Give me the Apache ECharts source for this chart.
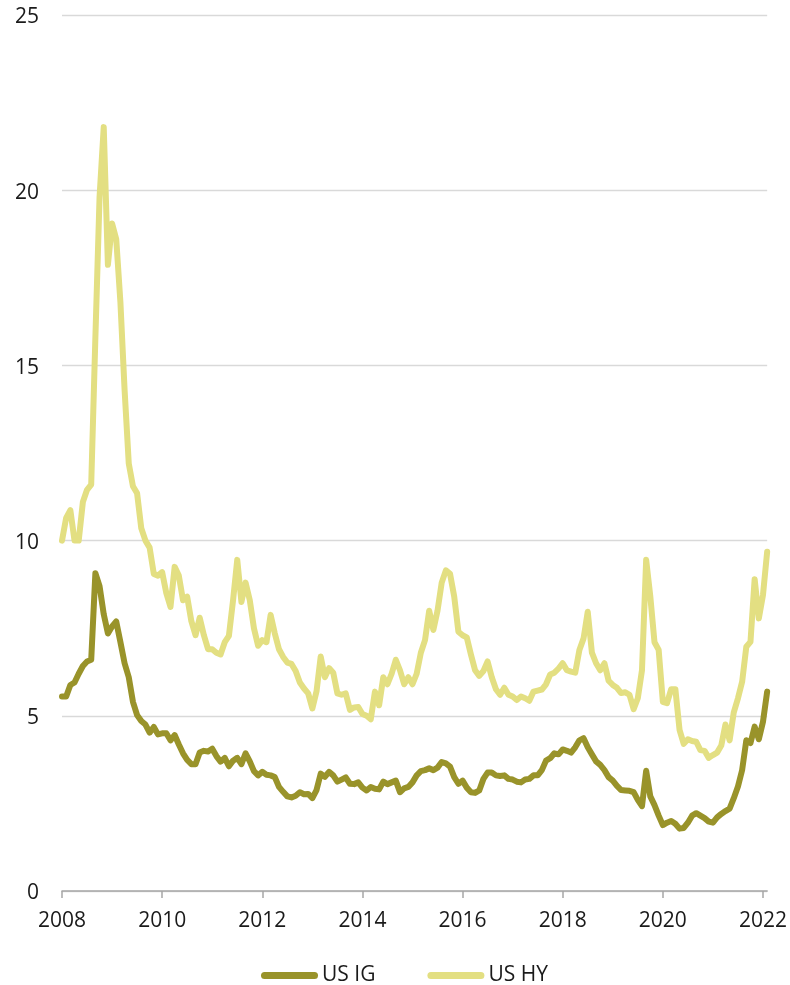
<!DOCTYPE html>
<html>
<head>
<meta charset="utf-8">
<script src="https://cdn.jsdelivr.net/npm/echarts@6/dist/echarts.min.js"></script>
<style>
  html, body { margin: 0; padding: 0; background: #ffffff; }
  #chart { width: 790px; height: 985px; }
</style>
</head>
<body>
<div id="chart"></div>
<script>
// Monthly yields (%), January 2008 to February 2022
const seriesNames = ['US IG', 'US HY'];

const usIG = [
  5.55, 5.55, 5.88, 5.95, 6.2, 6.42, 6.55, 6.6, 9.07, 8.7, 7.9, 7.35,
  7.55, 7.69, 7.1, 6.5, 6.1, 5.4, 5.02, 4.85, 4.75, 4.52, 4.68, 4.47,
  4.5, 4.5, 4.3, 4.45, 4.18, 3.93, 3.74, 3.62, 3.62, 3.95, 4.0, 3.98,
  4.06, 3.85, 3.69, 3.8, 3.56, 3.72, 3.8, 3.62, 3.93, 3.7, 3.42, 3.3,
  3.4, 3.32, 3.3, 3.25, 2.97, 2.83, 2.7, 2.67, 2.72, 2.82, 2.76, 2.77,
  2.65, 2.88, 3.35, 3.26, 3.4, 3.3, 3.12, 3.18, 3.24, 3.06, 3.05, 3.1,
  2.95, 2.87, 2.97, 2.92, 2.9, 3.12, 3.05, 3.1, 3.15, 2.82, 2.93, 2.97,
  3.1, 3.3, 3.42, 3.45, 3.5, 3.45, 3.52, 3.68, 3.64, 3.55, 3.25, 3.06,
  3.15, 2.95, 2.82, 2.8, 2.87, 3.2, 3.38, 3.38, 3.3, 3.28, 3.3, 3.2,
  3.18, 3.12, 3.1, 3.18, 3.2, 3.3, 3.3, 3.45, 3.72, 3.79, 3.93, 3.9,
  4.04, 4.0, 3.95, 4.1, 4.3, 4.36, 4.1, 3.9, 3.7, 3.6, 3.45, 3.25,
  3.15, 3.0, 2.88, 2.87, 2.86, 2.82, 2.6, 2.42, 3.43, 2.7, 2.45, 2.15,
  1.88, 1.95, 2.0, 1.92, 1.78, 1.8, 1.95, 2.15, 2.22, 2.15, 2.08, 1.98,
  1.95, 2.1, 2.2, 2.28, 2.35, 2.65, 2.98, 3.45, 4.3, 4.22, 4.69, 4.33,
  4.83, 5.69
];

const usHY = [
  10.0, 10.65, 10.87, 10.0, 10.0, 11.1, 11.45, 11.6, 15.8, 19.8, 21.8, 17.87,
  19.05, 18.6, 16.8, 14.3, 12.2, 11.55, 11.35, 10.35, 10.0, 9.8, 9.05, 9.0,
  9.1, 8.5, 8.11, 9.25, 9.0, 8.3, 8.4, 7.7, 7.3, 7.8, 7.3, 6.9,
  6.9, 6.8, 6.75, 7.1, 7.28, 8.3, 9.45, 8.25, 8.8, 8.3, 7.5, 7.0,
  7.16, 7.1, 7.88, 7.35, 6.9, 6.68, 6.52, 6.48, 6.28, 5.95, 5.78, 5.64,
  5.21, 5.7, 6.69, 6.1, 6.36, 6.23, 5.64, 5.6, 5.64, 5.17, 5.24, 5.25,
  5.05, 5.0, 4.9, 5.69, 5.3, 6.1, 5.9, 6.2, 6.6, 6.3, 5.9, 6.1,
  5.9, 6.2, 6.8, 7.16, 8.0, 7.45, 8.0, 8.8, 9.15, 9.05, 8.4, 7.4,
  7.3, 7.24, 6.75, 6.3, 6.14, 6.28, 6.55, 6.1, 5.76, 5.6, 5.8, 5.6,
  5.55, 5.45, 5.55, 5.5, 5.43, 5.69, 5.72, 5.75, 5.9, 6.18, 6.23, 6.35,
  6.5, 6.3, 6.26, 6.23, 6.88, 7.21, 7.97, 6.8, 6.5, 6.3, 6.5, 6.0,
  5.88, 5.8, 5.65, 5.67, 5.6, 5.19, 5.5, 6.3, 9.45, 8.4, 7.1, 6.88,
  5.4, 5.36, 5.76, 5.76, 4.6, 4.2, 4.33, 4.28, 4.26, 4.02, 4.0, 3.8,
  3.88, 3.95, 4.15, 4.75, 4.3, 5.1, 5.5, 5.97, 6.97, 7.11, 8.9, 7.78,
  8.45, 9.68
];

// Month categories: "2008-01" ... "2022-02"
const months = [];
for (let y = 2008; months.length < usIG.length; y++) {
  for (let m = 1; m <= 12 && months.length < usIG.length; m++) {
    months.push(y + '-' + String(m).padStart(2, '0'));
  }
}

const yTicks = { min: 0, max: 25, interval: 5 };

const colors = ['#99932a', '#e3df82'];
const fontFamily = "'Open Sans', 'Liberation Sans', sans-serif";
const textColor = '#1a1a1a';

// Legend marker: a short thick bar with rounded ends
const barIcon = 'path://M3.5,0 L53.5,0 A3.5,3.5 0 0 1 53.5,7 L3.5,7 A3.5,3.5 0 0 1 3.5,0 Z';

const chart = echarts.init(document.getElementById('chart'), null, { renderer: 'canvas' });

chart.setOption({
  animation: false,
  backgroundColor: '#ffffff',
  color: colors,
  textStyle: { fontFamily: fontFamily },
  grid: { left: 62, right: 21, top: 15, bottom: 94 },
  legend: {
    data: seriesNames.map(function (n) { return { name: n, icon: barIcon }; }),
    left: 256,
    top: 960,
    itemWidth: 57,
    itemHeight: 7,
    itemGap: 52,
    textStyle: { fontFamily: fontFamily, fontSize: 21, color: textColor, padding: [0, 0, 0, -1] }
  },
  xAxis: {
    type: 'category',
    data: months,
    boundaryGap: false,
    axisLine: { show: true, lineStyle: { color: '#a6a6a6', width: 1.5 } },
    axisTick: { show: true, interval: 23, length: 7, lineStyle: { color: '#a6a6a6', width: 1.5 } },
    axisLabel: {
      interval: 23,
      margin: 20,
      fontSize: 21,
      color: textColor,
      fontFamily: fontFamily,
      formatter: function (v) { return v.slice(0, 4); }
    },
    splitLine: { show: false }
  },
  yAxis: {
    type: 'value',
    min: yTicks.min,
    max: yTicks.max,
    interval: yTicks.interval,
    axisLine: { show: false },
    axisTick: { show: false },
    axisLabel: { margin: 23, fontSize: 21, color: textColor, fontFamily: fontFamily, verticalAlign: 'top', lineHeight: 21, padding: [-8, 0, 0, 0] },
    splitLine: { show: true, lineStyle: { color: '#d9d9d9', width: 1.3 } }
  },
  series: [
    {
      name: seriesNames[0],
      type: 'line',
      data: usIG,
      symbol: 'none',
      z: 3,
      lineStyle: { width: 6, color: colors[0], join: 'round', cap: 'round' }
    },
    {
      name: seriesNames[1],
      type: 'line',
      data: usHY,
      symbol: 'none',
      z: 2,
      lineStyle: { width: 6, color: colors[1], join: 'round', cap: 'round' }
    }
  ]
});
</script>
</body>
</html>
